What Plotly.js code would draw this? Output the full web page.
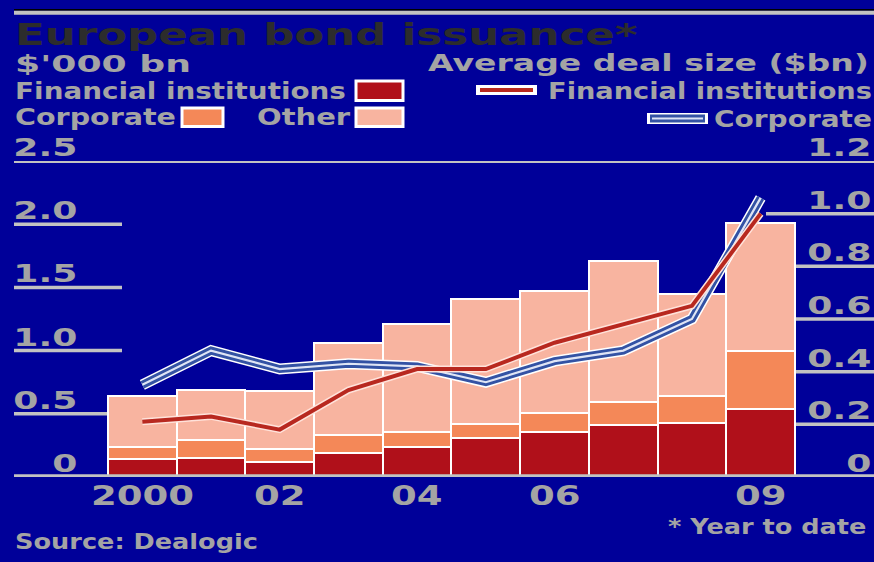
<!DOCTYPE html>
<html><head><meta charset="utf-8">
<script src="https://cdn.plot.ly/plotly-3.0.1.min.js"></script>
<style>html,body{margin:0;padding:0;background:#000099;overflow:hidden}#chart{width:874px;height:562px}</style>
</head><body><div id="chart"></div>
<script>
// ---- data ----
const years = [2000, 2001, 2002, 2003, 2004, 2005, 2006, 2007, 2008, 2009];
const financialIssuance = [0.14, 0.15, 0.12, 0.19, 0.24, 0.31, 0.36, 0.41, 0.43, 0.54];
const corporateIssuance = [0.10, 0.14, 0.10, 0.14, 0.12, 0.11, 0.15, 0.18, 0.21, 0.46];
const otherIssuance     = [0.40, 0.40, 0.46, 0.73, 0.85, 0.99, 0.96, 1.12, 0.81, 1.01];
const dealSizeFinancial = [0.21, 0.23, 0.18, 0.33, 0.41, 0.41, 0.51, 0.58, 0.65, 1.00];
const dealSizeCorporate = [0.35, 0.48, 0.41, 0.43, 0.42, 0.36, 0.44, 0.48, 0.60, 1.06];
const xTickVals = [2000, 2002, 2004, 2006, 2009];
const xTickText = ['2000', '02', '04', '06', '09'];
const yTickVals = [0, 0.5, 1, 1.5, 2, 2.5];
const yTickText = ['0', '0.5', '1.0', '1.5', '2.0', '2.5'];
const y2TickVals = [0, 0.2, 0.4, 0.6, 0.8, 1.0, 1.2];
const y2TickText = ['0', '0.2', '0.4', '0.6', '0.8', '1.0', '1.2'];

// ---- style ----
const BG = '#000099', GRID = '#c2c2c2', TXT = '#a4a4a4', TITLE = '#2c2c2c';
const C_FIN = '#b0101a', C_CORP = '#f48858', C_OTHER = '#f8b4a0';
const L_FIN = '#b8281f', L_CORP = '#3352a4';
const FONT = 'DejaVu Sans';

// pixel -> paper helpers (plot area: x 14..874, y 161..477)
const PX = p => (p - 14) / 860;
const PY = p => (477 - p) / 316;

// ---- traces ----
const barLine = {color: '#ffffff', width: 2};
const data = [
  {type: 'bar', x: years, y: financialIssuance, marker: {color: C_FIN, line: barLine}, hoverinfo: 'skip'},
  {type: 'bar', x: years, y: corporateIssuance, marker: {color: C_CORP, line: barLine}, hoverinfo: 'skip'},
  {type: 'bar', x: years, y: otherIssuance, marker: {color: C_OTHER, line: barLine}, hoverinfo: 'skip'},
  {type: 'scatter', mode: 'lines', x: years, y: dealSizeCorporate, yaxis: 'y2', line: {color: '#ffffff', width: 11}, hoverinfo: 'skip'},
  {type: 'scatter', mode: 'lines', x: years, y: dealSizeCorporate, yaxis: 'y2', line: {color: L_CORP, width: 8}, hoverinfo: 'skip'},
  {type: 'scatter', mode: 'lines', x: years, y: dealSizeCorporate, yaxis: 'y2', line: {color: '#dfe5f5', width: 2.2}, hoverinfo: 'skip'},
  {type: 'scatter', mode: 'lines', x: years, y: dealSizeFinancial, yaxis: 'y2', line: {color: '#ffe2da', width: 7}, hoverinfo: 'skip'},
  {type: 'scatter', mode: 'lines', x: years, y: dealSizeFinancial, yaxis: 'y2', line: {color: L_FIN, width: 4}, hoverinfo: 'skip'}
];

// ---- shapes ----
const shapes = [];
shapes.push({type: 'rect', xref: 'paper', yref: 'paper', x0: 0, x1: 1, y0: PY(9), y1: PY(10.7), fillcolor: '#000000', line: {width: 0}, layer: 'above'});
shapes.push({type: 'rect', xref: 'paper', yref: 'paper', x0: 0, x1: 1, y0: PY(10.7), y1: PY(14.7), fillcolor: GRID, line: {width: 0}, layer: 'above'});
yTickVals.forEach((v, i) => {
  if (i === yTickVals.length - 1) {
    shapes.push({type: 'line', xref: 'paper', yref: 'y', x0: 0, x1: 1, y0: v, y1: v, line: {color: GRID, width: 4}, layer: 'below'});
  } else if (i > 0) {
    shapes.push({type: 'line', xref: 'paper', yref: 'y', x0: 0, x1: PX(122), y0: v, y1: v, line: {color: GRID, width: 3.5}, layer: 'below'});
  }
});
y2TickVals.forEach((v, i) => {
  if (i > 0 && i < y2TickVals.length - 1) {
    shapes.push({type: 'line', xref: 'paper', yref: 'y2', x0: PX(766), x1: 1, y0: v, y1: v, line: {color: GRID, width: 3.5}, layer: 'below'});
  }
});
shapes.push({type: 'line', xref: 'paper', yref: 'y', x0: 0, x1: 1, y0: 0, y1: 0, line: {color: GRID, width: 5.5}, layer: 'above'});
// legend swatches
function box(x0, x1, y0, y1, col) {
  shapes.push({type: 'rect', xref: 'paper', yref: 'paper', x0: PX(x0), x1: PX(x1), y0: PY(y1), y1: PY(y0), fillcolor: col, line: {color: '#ffffff', width: 3}, layer: 'above'});
}
box(356, 403, 81, 100.5, C_FIN);
box(182, 223, 108, 126.5, C_CORP);
box(356, 403, 108, 126.5, C_OTHER);
function seg(x0, x1, y, col, w) {
  shapes.push({type: 'line', xref: 'paper', yref: 'paper', x0: PX(x0), x1: PX(x1), y0: PY(y), y1: PY(y), line: {color: col, width: w}, layer: 'above'});
}
seg(476, 537, 90, '#ffffff', 10); seg(480, 533, 90, L_FIN, 4);
seg(647, 708, 118.5, '#ffffff', 11); seg(650, 705, 118.5, L_CORP, 8); seg(652, 703, 118.5, '#dfe5f5', 2.2);

// ---- text (annotations, later stretched horizontally to the reference widths) ----
const specs = [];
function T(o) { specs.push(o); }
T({text: 'European bond issuance*', x: PX(14), y: PY(34.5), xanchor: 'left', size: 30, color: TITLE, w: 623});
T({text: "$'000 bn", x: PX(14), y: PY(64), xanchor: 'left', size: 23, w: 176});
T({text: 'Average deal size ($bn)', x: PX(427), y: PY(63.5), xanchor: 'left', size: 23, w: 441});
T({text: 'Financial institutions', x: PX(14), y: PY(91.5), xanchor: 'left', size: 23, w: 331});
T({text: 'Corporate', x: PX(14), y: PY(117.5), xanchor: 'left', size: 23, w: 161});
T({text: 'Other', x: PX(256), y: PY(117.5), xanchor: 'left', size: 23, w: 94});
T({text: 'Financial institutions', x: PX(547), y: PY(91), xanchor: 'left', size: 23, w: 324});
T({text: 'Corporate', x: PX(713), y: PY(119), xanchor: 'left', size: 23, w: 158});
yTickVals.forEach((v, i) => T({text: yTickText[i], x: PX(78), y: v, yref: 'y', yshift: 13.5, xanchor: 'right', size: 25, group: 'ytick'}));
y2TickVals.forEach((v, i) => T({text: y2TickText[i], x: PX(872), y: v, yref: 'y2', yshift: 13.5, xanchor: 'right', size: 25, group: 'ytick'}));
xTickVals.forEach((v, i) => T({text: xTickText[i], x: v, xref: 'x', y: PY(495), xanchor: 'center', size: 27, group: 'xtick'}));
T({text: 'Source: Dealogic', x: PX(14), y: PY(542), xanchor: 'left', size: 21, group: 'note'});
T({text: '* Year to date', x: PX(667), y: PY(527), xanchor: 'left', size: 21, group: 'note'});
const groupRef = {ytick: {text: '2.0', w: 64}, xtick: {text: '2000', w: 103}, note: {text: 'Source: Dealogic', w: 243}};

const annotations = specs.map(s => ({
  text: s.text, showarrow: false,
  xref: s.xref || 'paper', yref: s.yref || 'paper', x: s.x, y: s.y,
  xanchor: s.xanchor, yanchor: 'middle', yshift: s.yshift || 0,
  borderpad: 0,
  font: {family: FONT, size: s.size, color: s.color || TXT, weight: 'bold'}
}));

const layout = {
  width: 874, height: 562,
  margin: {l: 14, r: 0, t: 161, b: 85, pad: 0},
  paper_bgcolor: BG, plot_bgcolor: BG,
  showlegend: false, barmode: 'stack', bargap: 0,
  xaxis: {range: [1998.132, 2010.65], showgrid: false, zeroline: false, showline: false, showticklabels: false, ticks: '', fixedrange: true},
  yaxis: {range: [0, 2.5], showgrid: false, zeroline: false, showline: false, showticklabels: false, ticks: '', fixedrange: true},
  yaxis2: {range: [0, 1.2], overlaying: 'y', side: 'right', showgrid: false, zeroline: false, showline: false, showticklabels: false, ticks: '', fixedrange: true},
  shapes: shapes,
  annotations: annotations,
  font: {family: FONT, color: TXT}
};

const gd = document.getElementById('chart');
Plotly.newPlot(gd, data, layout, {staticPlot: true, displayModeBar: false}).then(() => {
  const nodes = {};
  gd.querySelectorAll('g.annotation').forEach(g => { nodes[+g.getAttribute('data-index')] = g.querySelector('text.annotation-text'); });
  const groupScale = {};
  specs.forEach((s, i) => {
    if (s.group && groupRef[s.group].text === s.text && groupScale[s.group] === undefined) {
      const bb = nodes[i].getBBox();
      groupScale[s.group] = groupRef[s.group].w / bb.width;
    }
  });
  specs.forEach((s, i) => {
    const t = nodes[i]; if (!t) return;
    const bb = t.getBBox();
    const sc = s.group ? groupScale[s.group] : s.w / bb.width;
    const ox = s.xanchor === 'left' ? bb.x : (s.xanchor === 'right' ? bb.x + bb.width : bb.x + bb.width / 2);
    const prev = t.getAttribute('transform') || '';
    t.setAttribute('transform', prev + ' translate(' + ox + ',0) scale(' + sc + ',1) translate(' + (-ox) + ',0)');
  });
});
</script>
</body></html>
